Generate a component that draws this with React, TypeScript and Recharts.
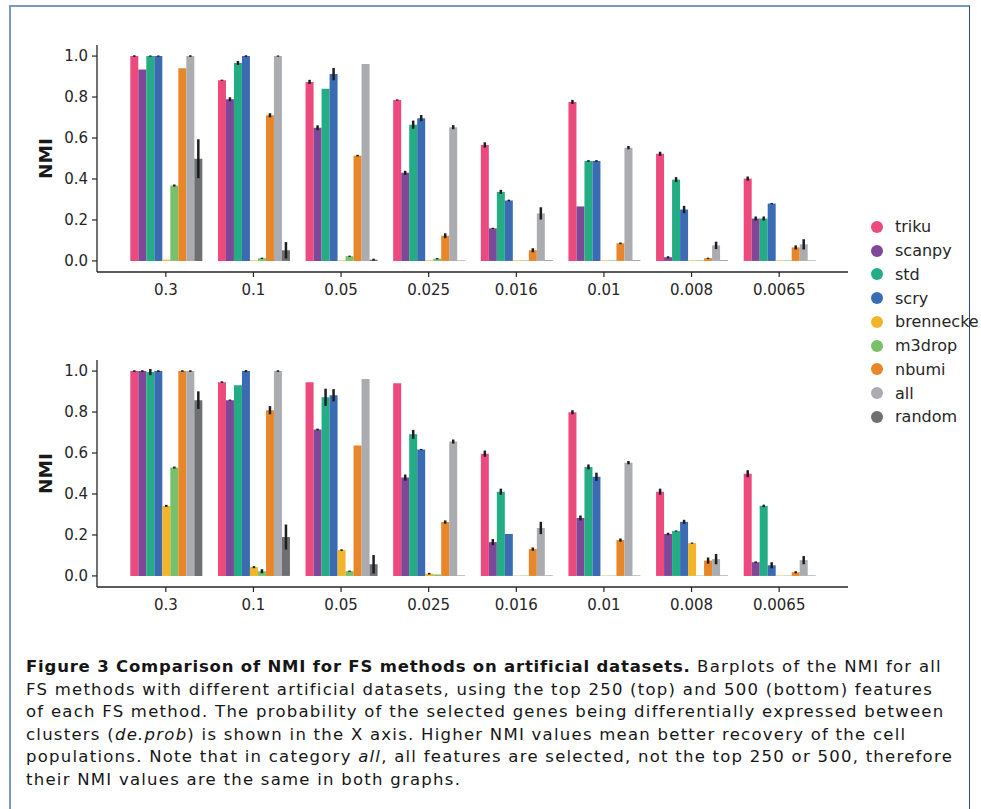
import { BarChart, Bar, XAxis, YAxis, ErrorBar } from "recharts";

const categories = ["0.3", "0.1", "0.05", "0.025", "0.016", "0.01", "0.008", "0.0065"];
const methods = ["triku", "scanpy", "std", "scry", "brennecke", "m3drop", "nbumi", "all", "random"];
const colors = ["#EC4A7C", "#7E4798", "#24AD85", "#3B6CB3", "#F0B52A", "#78C06A", "#E8862A", "#ABACAF", "#6E6F72"];
const yTicks = [0, 0.2, 0.4, 0.6, 0.8, 1.0];

// top 250 features
const triku250 = [1.0, 0.882, 0.874, 0.786, 0.566, 0.776, 0.523, 0.402];
const scanpy250 = [0.935, 0.789, 0.65, 0.43, 0.159, 0.266, 0.018, 0.207];
const std250 = [1.0, 0.966, 0.84, 0.665, 0.337, 0.488, 0.397, 0.207];
const scry250 = [1.0, 1.0, 0.912, 0.697, 0.295, 0.488, 0.251, 0.28];
const brennecke250 = [0.006, 0.003, 0.003, 0.003, 0.003, 0.003, 0.003, 0.003];
const m3drop250 = [0.368, 0.013, 0.023, 0.011, 0.003, 0.003, 0.003, 0.003];
const nbumi250 = [0.94, 0.711, 0.514, 0.123, 0.052, 0.086, 0.013, 0.066];
const all250 = [1.0, 1.0, 0.961, 0.653, 0.232, 0.553, 0.076, 0.081];
const random250 = [0.499, 0.052, 0.006, 0.002, 0.003, 0.003, 0.003, 0.002];

const trikuErr250 = [0.004, 0.003, 0.01, 0.003, 0.013, 0.01, 0.01, 0.01];
const scanpyErr250 = [0, 0.01, 0.012, 0.01, 0.003, 0, 0.005, 0.01];
const stdErr250 = [0.003, 0.01, 0, 0.02, 0.01, 0.004, 0.012, 0.01];
const scryErr250 = [0.003, 0.004, 0.03, 0.015, 0.004, 0.004, 0.018, 0.003];
const brenneckeErr250 = [0, 0, 0, 0, 0, 0, 0, 0];
const m3dropErr250 = [0.005, 0.003, 0.003, 0.003, 0, 0, 0, 0];
const nbumiErr250 = [0, 0.01, 0.004, 0.012, 0.01, 0.004, 0.003, 0.01];
const allErr250 = [0.004, 0.003, 0, 0.01, 0.03, 0.008, 0.018, 0.025];
const randomErr250 = [0.095, 0.04, 0.005, 0, 0, 0, 0, 0];

// top 500 features
const triku500 = [1.0, 0.946, 0.946, 0.941, 0.597, 0.799, 0.411, 0.499];
const scanpy500 = [1.0, 0.858, 0.715, 0.48, 0.165, 0.283, 0.205, 0.067];
const std500 = [0.995, 0.931, 0.872, 0.691, 0.411, 0.532, 0.219, 0.342];
const scry500 = [1.0, 1.0, 0.882, 0.617, 0.205, 0.484, 0.264, 0.052];
const brennecke500 = [0.342, 0.043, 0.126, 0.011, 0.002, 0.002, 0.16, 0.002];
const m3drop500 = [0.529, 0.023, 0.023, 0.007, 0.002, 0.002, 0.002, 0.002];
const nbumi500 = [1.0, 0.809, 0.637, 0.263, 0.131, 0.175, 0.075, 0.018];
const all500 = [1.0, 1.0, 0.961, 0.656, 0.234, 0.553, 0.082, 0.077];
const random500 = [0.858, 0.19, 0.057, 0.002, 0.002, 0.002, 0.002, 0.002];

const trikuErr500 = [0.004, 0.004, 0, 0, 0.015, 0.01, 0.015, 0.017];
const scanpyErr500 = [0.004, 0.003, 0.004, 0.015, 0.015, 0.012, 0.006, 0.004];
const stdErr500 = [0.015, 0, 0.042, 0.022, 0.015, 0.012, 0.003, 0.006];
const scryErr500 = [0.004, 0.005, 0.03, 0.003, 0, 0.02, 0.01, 0.015];
const brenneckeErr500 = [0.005, 0.005, 0.004, 0.004, 0, 0, 0.003, 0];
const m3dropErr500 = [0.005, 0.01, 0.003, 0, 0, 0, 0, 0];
const nbumiErr500 = [0.004, 0.02, 0, 0.008, 0.008, 0.008, 0.015, 0.005];
const allErr500 = [0.004, 0.004, 0, 0.01, 0.03, 0.008, 0.025, 0.02];
const randomErr500 = [0.043, 0.061, 0.045, 0, 0, 0, 0, 0];

const values250 = [triku250, scanpy250, std250, scry250, brennecke250, m3drop250, nbumi250, all250, random250];
const errors250 = [trikuErr250, scanpyErr250, stdErr250, scryErr250, brenneckeErr250, m3dropErr250, nbumiErr250, allErr250, randomErr250];
const values500 = [triku500, scanpy500, std500, scry500, brennecke500, m3drop500, nbumi500, all500, random500];
const errors500 = [trikuErr500, scanpyErr500, stdErr500, scryErr500, brenneckeErr500, m3dropErr500, nbumiErr500, allErr500, randomErr500];

const ink = "#262626";
const tickFont = { fill: ink, fontSize: 15, fontFamily: "DejaVu Sans" };

function buildRows(vals: number[][], errs: number[][]) {
  return categories.map((c, i) => {
    const row: any = { cat: c };
    methods.forEach((m, j) => {
      row[m] = vals[j][i];
      row[m + "Err"] = errs[j][i];
    });
    return row;
  });
}

function Panel({ top, vals, errs }: { top: number; vals: number[][]; errs: number[][] }) {
  const rows = buildRows(vals, errs);
  return (
    <div style={{ position: "absolute", left: 0, top }}>
      <BarChart
        width={860}
        height={300}
        data={rows}
        margin={{ top: 45, right: 12, bottom: 0, left: 0 }}
        barCategoryGap="9.5%"
        barGap={0}
      >
        <XAxis
          dataKey="cat"
          interval={0}
          padding={{ left: 25, right: 25 }}
          height={28}
          tickSize={5}
          tickMargin={7}
          tick={tickFont}
          axisLine={{ stroke: ink, strokeWidth: 1.3 }}
          tickLine={{ stroke: ink, strokeWidth: 1.2 }}
        />
        <YAxis
          type="number"
          width={97}
          domain={[-0.054, 1.054]}
          allowDataOverflow
          ticks={yTicks}
          tickFormatter={(v: number) => v.toFixed(1)}
          tickSize={5}
          tickMargin={4}
          tick={tickFont}
          axisLine={{ stroke: ink, strokeWidth: 1.3 }}
          tickLine={{ stroke: ink, strokeWidth: 1.2 }}
          label={{
            value: "NMI",
            angle: -90,
            position: "center",
            dx: -3,
            fill: "#1a1a1a",
            fontSize: 18.5,
            fontWeight: "bold",
            fontFamily: "DejaVu Sans",
          }}
        />
        {methods.map((m, j) => (
          <Bar key={m} dataKey={m} fill={colors[j]} isAnimationActive={false}>
            <ErrorBar dataKey={m + "Err"} width={0} stroke="#1e1e1e" strokeWidth={2.5} direction="y" isAnimationActive={false} />
          </Bar>
        ))}
      </BarChart>
    </div>
  );
}

function LegendBox() {
  return (
    <div style={{ position: "absolute", left: 871, top: 215 }}>
      {methods.map((m, j) => (
        <div key={m} style={{ display: "flex", alignItems: "center", height: 23.75 }}>
          <span
            style={{ width: 12, height: 12, borderRadius: 6, background: colors[j], display: "inline-block", marginRight: 12 }}
          />
          <span style={{ fontFamily: "DejaVu Sans", fontSize: 16, color: ink }}>{m}</span>
        </div>
      ))}
    </div>
  );
}

const captionStyle: any = {
  position: "absolute",
  left: 26,
  top: 656,
  fontFamily: "DejaVu Sans",
  fontSize: 16.5,
  letterSpacing: "1.25px",
  lineHeight: "22.5px",
  color: "#161616",
  whiteSpace: "nowrap",
};

export default function App() {
  return (
    <div style={{ position: "absolute", left: 0, top: 0, width: 981, height: 809, overflow: "hidden", background: "#fff" }}>
      <div
        style={{
          position: "absolute",
          left: 9,
          top: 5,
          width: 961,
          height: 830,
          boxSizing: "border-box",
          borderLeft: "2px solid #7b98c4",
          borderTop: "2px solid #7b98c4",
          borderRight: "1.5px solid #2e4a7a",
        }}
      />
      <Panel top={0} vals={values250} errs={errors250} />
      <Panel top={315} vals={values500} errs={errors500} />
      <LegendBox />
      <div style={captionStyle}>
        <div>
          <b style={{ letterSpacing: "0.8px" }}>Figure 3 Comparison of NMI for FS methods on artificial datasets.</b> Barplots of the NMI for all
        </div>
        <div>FS methods with different artificial datasets, using the top 250 (top) and 500 (bottom) features</div>
        <div>of each FS method. The probability of the selected genes being differentially expressed between</div>
        <div>
          clusters (<i>de.prob</i>) is shown in the X axis. Higher NMI values mean better recovery of the cell
        </div>
        <div>
          populations. Note that in category <i>all</i>, all features are selected, not the top 250 or 500, therefore
        </div>
        <div>their NMI values are the same in both graphs.</div>
      </div>
    </div>
  );
}
